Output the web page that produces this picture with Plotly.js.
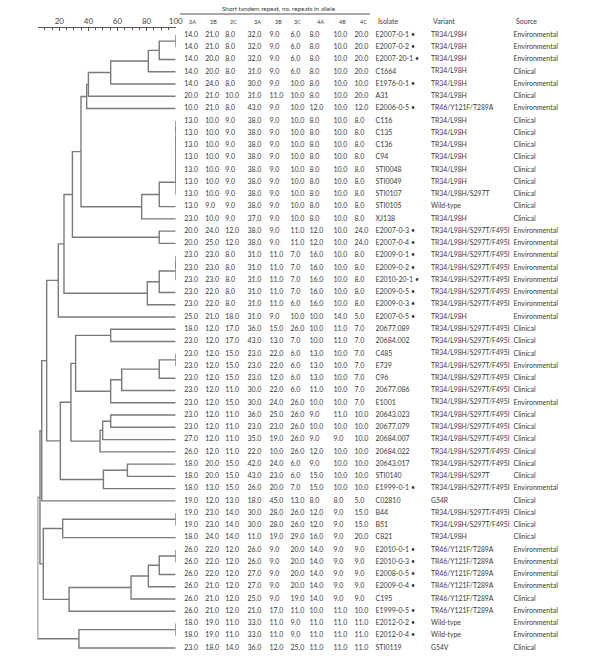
<!DOCTYPE html>
<html><head><meta charset="utf-8">
<script src="https://cdn.plot.ly/plotly-3.0.1.min.js"></script>
<style>body{margin:0;background:#fff}#chart{width:600px;height:663px}</style>
</head><body><div id="chart"></div>
<script>
// ---- data ----
const lociLabels = ['2A','2B','2C','3A','3B','3C','4A','4B','4C'];
const col2A = [14,14,14,14,14,20,10,13,13,13,13,13,13,13,13,23,20,20,23,23,23,23,23,25,18,23,23,23,23,23,23,23,23,27,26,18,18,18,19,19,19,18,26,26,26,26,26,26,18,18,23];
const col2B = [21,21,20,20,24,21,21,10,10,10,10,10,10,10,9,10,24,25,23,23,23,22,22,21,12,12,12,12,12,12,12,12,12,12,12,20,20,13,12,23,23,24,22,22,22,21,21,21,19,19,18];
const col2C = [8,8,8,8,8,10,8,9,9,9,9,9,9,9,9,9,12,12,8,8,8,8,8,18,17,17,15,15,15,11,15,11,11,11,11,15,15,15,13,14,14,14,12,12,12,12,12,12,11,11,14];
const col3A = [32,32,32,31,30,31,43,38,38,38,38,38,38,38,38,37,38,38,31,31,31,31,31,31,36,43,23,23,23,30,30,36,23,35,22,42,43,26,18,30,30,11,26,26,27,27,25,21,33,33,36];
const col3B = [9,9,9,9,9,11,9,9,9,9,9,9,9,9,9,9,9,9,11,11,11,11,11,9,15,13,22,22,12,22,24,25,23,19,10,24,23,20,45,28,28,19,9,9,9,9,9,17,11,11,12];
const col3C = [6,6,6,6,10,10,10,10,10,10,10,10,10,10,10,10,11,11,7,7,7,7,6,10,26,7,6,6,6,6,26,26,26,26,26,6,6,7,13,26,26,29,20,20,20,20,19,11,9,9,25];
const col4A = [8,8,8,8,8,8,12,8,8,8,8,8,8,8,8,8,12,12,16,16,16,16,16,10,10,10,13,13,13,11,10,9,10,9,12,9,15,15,8,12,12,16,14,14,14,14,14,10,11,11,11];
const col4B = [10,10,10,10,10,10,10,10,10,10,10,10,10,10,10,10,10,10,10,10,10,10,10,14,11,11,10,10,10,10,10,11,10,9,10,10,10,10,8,9,9,9,9,9,9,9,9,11,11,11,11];
const col4C = [20,20,20,20,10,20,12,8,8,8,8,8,8,8,8,8,24,24,8,8,8,8,8,5,7,7,7,7,7,7,7,10,10,10,10,10,10,10,5,15,15,20,9,9,9,9,9,10,11,11,11];
const isolates = ['E2007-0-1 •','E2007-0-2 •','E2007-20-1 •','C1664','E1976-0-1 •','A31','E2006-0-5 •','C116','C135','C136','C94','STI0048','STI0049','STI0107','STI0105','XJ138','E2007-0-3 •','E2007-0-4 •','E2009-0-1 •','E2009-0-2 •','E2010-20-1 •','E2009-0-5 •','E2009-0-3 •','E2007-0-5 •','20677.089','20684.002','C485','E739','C96','20677.086','E1001','20643.023','20677.079','20684.007','20684.022','20643.017','STI0140','E1999-0-1 •','C02810','B44','B51','C821','E2010-0-1 •','E2010-0-3 •','E2008-0-5 •','E2009-0-4 •','C195','E1999-0-5 •','E2012-0-2 •','E2012-0-4 •','STI0119'];
const variants = ['TR34/L98H','TR34/L98H','TR34/L98H','TR34/L98H','TR34/L98H','TR34/L98H','TR46/Y121F/T289A','TR34/L98H','TR34/L98H','TR34/L98H','TR34/L98H','TR34/L98H','TR34/L98H','TR34/L98H/S297T','Wild-type','TR34/L98H','TR34/L98H/S297T/F495I','TR34/L98H/S297T/F495I','TR34/L98H/S297T/F495I','TR34/L98H/S297T/F495I','TR34/L98H/S297T/F495I','TR34/L98H/S297T/F495I','TR34/L98H/S297T/F495I','TR34/L98H','TR34/L98H/S297T/F495I','TR34/L98H/S297T/F495I','TR34/L98H/S297T/F495I','TR34/L98H/S297T/F495I','TR34/L98H/S297T/F495I','TR34/L98H/S297T/F495I','TR34/L98H/S297T/F495I','TR34/L98H/S297T/F495I','TR34/L98H/S297T/F495I','TR34/L98H/S297T/F495I','TR34/L98H/S297T/F495I','TR34/L98H/S297T/F495I','TR34/L98H/S297T','TR34/L98H/S297T/F495I','G54R','TR34/L98H/S297T/F495I','TR34/L98H/S297T/F495I','TR34/L98H','TR46/Y121F/T289A','TR46/Y121F/T289A','TR46/Y121F/T289A','TR46/Y121F/T289A','TR46/Y121F/T289A','TR46/Y121F/T289A','Wild-type','Wild-type','G54V'];
const sources = ['Environmental','Environmental','Environmental','Clinical','Environmental','Clinical','Environmental','Clinical','Clinical','Clinical','Clinical','Clinical','Clinical','Clinical','Clinical','Clinical','Environmental','Environmental','Environmental','Environmental','Environmental','Environmental','Environmental','Environmental','Clinical','Clinical','Clinical','Environmental','Clinical','Clinical','Environmental','Clinical','Clinical','Clinical','Clinical','Clinical','Clinical','Environmental','Clinical','Clinical','Clinical','Clinical','Environmental','Environmental','Environmental','Environmental','Clinical','Environmental','Environmental','Environmental','Clinical'];
// dendrogram merges (hclust convention: negative = row number, positive = earlier merge step)
const mergeA = [-1,1,2,3,4,5,-8,7,8,9,10,11,12,13,6,-17,15,-19,18,19,20,17,22,-25,-27,25,26,27,24,-32,30,31,29,-36,34,33,23,37,-40,39,-43,41,42,43,44,40,38,-49,48,47];
const mergeB = [-2,-3,-4,-5,-6,-7,-9,-10,-11,-12,-13,-14,-15,-16,14,-18,16,-20,-21,-22,-23,21,-24,-26,-28,-29,-30,-31,28,-33,-34,-35,32,-37,-38,35,36,-39,-41,-42,-44,-45,-46,-47,-48,45,46,-50,-51,49];
const mergeSim = [100,88.7,81.2,55.3,40.0,38.8,100,100,100,100,100,100,88.7,76.6,34.9,88.7,29.0,100,100,88.7,80.5,23.2,19.3,55.3,100,88.7,62.9,55.3,31.2,55.3,49.8,48.0,28.0,66.8,50.3,20.7,11.3,7.9,100,22.3,100,88.7,81.2,69.3,26.7,9.0,6.7,100,33.5,5.1];
const scaleTicks = [20,40,60,80,100];

// ---- dendrogram geometry ----
const nodeX = [], nodeY = [];
const dx = [], dy = [];
function cx(c){ return c < 0 ? 100 : nodeX[c-1]; }
function cy(c){ return c < 0 ? (-c-1) : nodeY[c-1]; }
for (let k = 0; k < mergeA.length; k++) {
  const a = mergeA[k], b = mergeB[k], s = mergeSim[k];
  const ya = cy(a), yb = cy(b);
  dx.push(cx(a), s, s, cx(b), null);
  dy.push(ya, ya, yb, yb, null);
  nodeX.push(s); nodeY.push((ya+yb)/2);
}

const rowIdx = isolates.map((_, i) => i);
const FONT = 'Lato, "Open Sans", sans-serif';
const TXT = '#3a3a3a';
const cols = [col2A,col2B,col2C,col3A,col3B,col3C,col4A,col4B,col4C];
const colX = [184.2,205.2,225.2,247.5,269.5,290.5,309.5,333.5,354.5];
const headX = [186.5,207.5,227.5,251.5,272.5,291.5,314.5,336.5,357.5];

const traces = [{
  type:'scatter', mode:'lines', x:dx, y:dy, xaxis:'x', yaxis:'y',
  line:{color:'#7a7a7a', width:1.4}, hoverinfo:'skip', showlegend:false
}];
function textTrace(xpos, arr, size) {
  return {type:'scatter', mode:'text', xaxis:'x2', yaxis:'y',
    x: rowIdx.map(() => xpos), y: rowIdx, text: arr,
    textposition:'middle right', textfont:{family:FONT, size:size, color:TXT},
    hoverinfo:'skip', showlegend:false, cliponaxis:false};
}
cols.forEach((c, j) => traces.push(textTrace(colX[j], c.map(v => v.toFixed(1)), 7)));
traces.push(textTrace(375.5, isolates, 7));
traces.push(textTrace(431, variants, 6.8));
traces.push(textTrace(513.5, sources, 7));

const yTop = -35/12.26, yBottom = (663-35)/12.26;
const annotations = lociLabels.map((t, j) => ({
  xref:'x2', yref:'paper', x:headX[j], y:1-22.5/663, text:t, showarrow:false,
  xanchor:'left', yanchor:'middle', font:{family:FONT, size:5.5, color:TXT}
}));
[['Isolate',375.5],['Variant',431],['Source',513.5]].forEach(([t,x]) => annotations.push({
  xref:'x2', yref:'paper', x:x, y:1-21/663, text:t, showarrow:false,
  xanchor:'left', yanchor:'middle', font:{family:FONT, size:7, color:TXT}
}));
annotations.push({xref:'x2', yref:'paper', x:219.5, y:1-8.5/663, text:'Short tandem repeat, no. repeats in allele',
  showarrow:false, xanchor:'left', yanchor:'middle', font:{family:FONT, size:6.3, color:TXT}});

const layout = {
  width:600, height:663, margin:{l:0,r:0,t:0,b:0},
  paper_bgcolor:'#fff', plot_bgcolor:'rgba(0,0,0,0)', showlegend:false,
  xaxis:{domain:[37.5/600, 175.7/600], range:[5,100], side:'top', anchor:'free', position:1-27.3/663,
    showline:true, linecolor:'#555', linewidth:1, showgrid:false, zeroline:false,
    tickvals:scaleTicks, ticks:'inside', ticklen:3, tickcolor:'#555',
    minor:{dtick:5, tick0:0, ticks:'inside', ticklen:2, tickcolor:'#555', showgrid:false},
    tickfont:{family:FONT, size:8, color:'#444'}, fixedrange:true},
  xaxis2:{domain:[0,1], range:[0,600], anchor:'y', visible:false, fixedrange:true},
  yaxis:{domain:[0,1], range:[yBottom, yTop], visible:false, fixedrange:true},
  shapes:[{type:'line', xref:'x2', yref:'paper', x0:180, x1:370, y0:1-14/663, y1:1-14/663,
    line:{color:'#555', width:1}}],
  annotations: annotations
};
Plotly.newPlot('chart', traces, layout, {staticPlot:true, displayModeBar:false});
</script></body></html>
